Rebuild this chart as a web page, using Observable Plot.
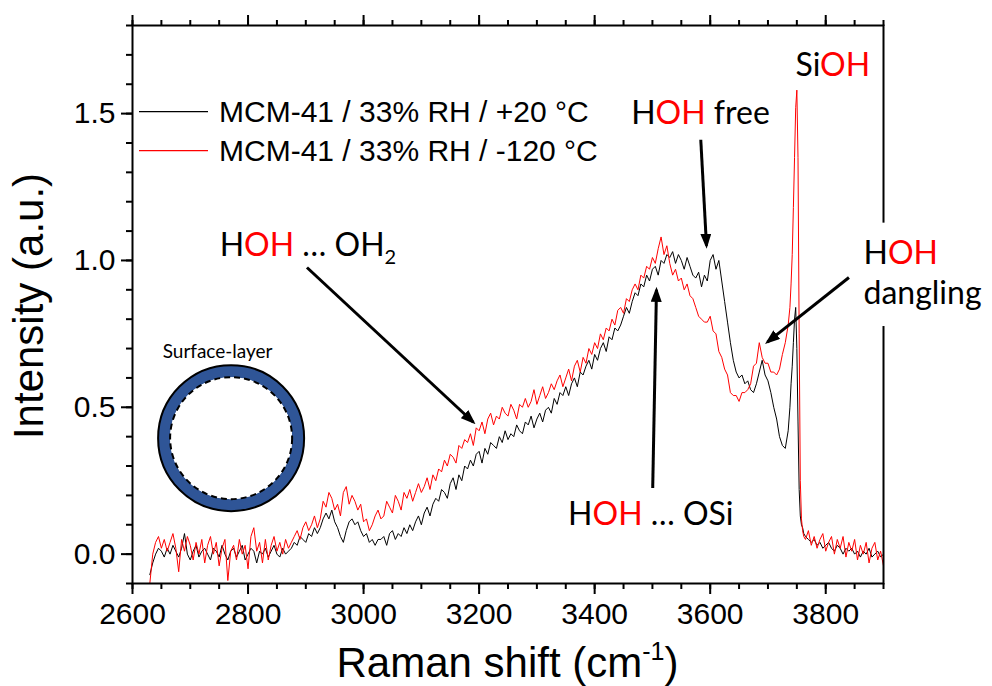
<!DOCTYPE html>
<html><head><meta charset="utf-8">
<script src="https://cdn.jsdelivr.net/npm/d3@7"></script>
<script src="https://cdn.jsdelivr.net/npm/@observablehq/plot@0.6"></script>
<style>body{margin:0;background:#fff;} svg{display:block}</style>
</head><body><div id="chart"></div>
<script>
// Raman shift grid (cm^-1): 5 cm^-1 steps, finer around the SiOH peak
const wavenumbers = [...d3.range(2630, 3736, 5), ...d3.range(3738, 3763, 2), ...d3.range(3765, 3901, 5)];

// MCM-41 / 33% RH / +20 °C (black)
const intensityWarm = [
 -0.07,-0.03,0.00,0.02,0.01,-0.01,0.02,0.00,0.03,0.01,
 -0.01,0.02,0.07,0.00,-0.02,0.01,0.03,-0.01,0.01,0.02,
 0.00,-0.02,0.02,0.01,-0.01,0.03,0.00,-0.02,0.01,0.02,
 -0.01,0.01,0.03,-0.02,0.00,0.02,0.01,-0.03,0.01,0.00,
 0.02,-0.01,0.01,0.03,0.00,-0.01,0.02,0.00,0.01,0.02,
 0.04,0.03,0.06,0.05,0.04,0.07,0.06,0.09,0.07,0.09,
 0.12,0.14,0.12,0.15,0.11,0.09,0.06,0.04,0.08,0.11,
 0.12,0.10,0.11,0.08,0.06,0.07,0.04,0.05,0.03,0.05,
 0.05,0.06,0.03,0.07,0.08,0.05,0.07,0.06,0.09,0.07,
 0.10,0.08,0.11,0.13,0.10,0.14,0.16,0.13,0.17,0.19,
 0.18,0.22,0.21,0.19,0.24,0.26,0.22,0.27,0.25,0.30,
 0.29,0.32,0.30,0.34,0.35,0.31,0.36,0.34,0.38,0.37,
 0.36,0.40,0.38,0.42,0.39,0.41,0.40,0.44,0.42,0.41,
 0.45,0.44,0.47,0.43,0.46,0.48,0.45,0.49,0.50,0.48,
 0.53,0.51,0.55,0.54,0.57,0.54,0.58,0.60,0.57,0.62,
 0.61,0.64,0.66,0.63,0.68,0.66,0.70,0.72,0.69,0.74,
 0.73,0.77,0.76,0.78,0.81,0.84,0.82,0.86,0.89,0.88,
 0.92,0.91,0.95,0.93,0.97,0.98,0.95,1.00,0.99,1.02,
 1.01,1.03,0.99,1.02,1.00,0.97,1.01,0.98,0.95,0.94,
 0.96,0.91,0.95,0.93,1.00,1.02,0.97,1.00,0.93,0.86,
 0.79,0.72,0.66,0.62,0.60,0.61,0.58,0.59,0.56,0.55,
 0.58,0.62,0.66,0.61,0.59,0.55,0.50,0.46,0.40,0.37,
 0.36,0.42,
 0.50,0.58,0.64,0.72,0.80,0.84,0.70,0.45,0.22,0.13,0.10,0.09,0.07,
 0.06,0.05,0.04,0.05,0.03,0.04,0.02,0.03,0.04,0.02,
 0.01,0.03,0.02,0.00,0.02,0.01,0.02,0.00,0.01,-0.01,
 0.01,0.00,0.02,-0.01,0.00,0.01,-0.01,0.00
];

// MCM-41 / 33% RH / -120 °C (red)
const intensityCold = [
 -0.10,0.00,0.04,0.06,0.02,0.05,0.01,0.04,0.07,0.02,
 -0.06,0.05,0.01,0.06,0.03,-0.02,0.04,0.00,0.05,-0.03,
 0.03,0.06,0.00,0.04,-0.04,0.02,0.05,-0.09,0.01,0.03,
 -0.02,0.05,0.00,0.03,-0.05,0.06,0.09,0.01,0.04,-0.03,
 0.05,-0.02,0.03,0.06,0.01,0.04,0.00,0.05,0.02,0.04,
 0.06,0.08,0.05,0.09,0.11,0.08,0.10,0.13,0.09,0.12,
 0.18,0.16,0.21,0.19,0.15,0.17,0.13,0.21,0.23,0.17,
 0.20,0.18,0.15,0.17,0.11,0.12,0.08,0.10,0.13,0.15,
 0.12,0.13,0.18,0.16,0.14,0.20,0.18,0.15,0.21,0.19,
 0.22,0.18,0.21,0.24,0.21,0.23,0.26,0.22,0.27,0.25,
 0.29,0.28,0.32,0.30,0.34,0.33,0.31,0.37,0.36,0.39,
 0.38,0.41,0.37,0.43,0.42,0.45,0.41,0.46,0.48,0.44,
 0.47,0.46,0.50,0.48,0.47,0.51,0.49,0.46,0.51,0.50,
 0.53,0.50,0.52,0.56,0.51,0.54,0.57,0.53,0.55,0.58,
 0.56,0.59,0.61,0.57,0.60,0.63,0.59,0.64,0.66,0.62,
 0.67,0.65,0.70,0.68,0.72,0.70,0.75,0.73,0.77,0.76,
 0.80,0.78,0.83,0.84,0.82,0.87,0.86,0.90,0.92,0.90,
 0.95,0.94,0.98,0.97,1.01,0.99,1.04,1.08,1.02,1.05,
 0.99,0.95,0.97,0.93,0.94,0.90,0.92,0.88,0.87,0.84,
 0.81,0.80,0.79,0.79,0.81,0.76,0.75,0.69,0.67,0.63,
 0.61,0.55,0.54,0.54,0.52,0.55,0.55,0.56,0.58,0.64,
 0.65,0.72,0.67,0.65,0.65,0.62,0.62,0.61,0.63,0.68,
 0.72,0.78,
 0.84,0.92,1.02,1.18,1.35,1.52,1.58,1.35,0.75,0.25,0.12,0.08,0.06,
 0.05,0.08,0.03,0.06,0.02,0.05,0.07,0.01,0.04,0.06,
 0.00,0.05,0.02,0.06,-0.01,0.04,0.01,0.05,-0.02,0.03,
 0.00,0.04,-0.03,0.02,0.04,-0.02,0.01,-0.04
];

const seriesNames = ["MCM-41 / 33% RH / +20 °C", "MCM-41 / 33% RH / -120 °C"];
const seriesColors = ["#000000", "#ff0000"];
const xTicks = [2600, 2800, 3000, 3200, 3400, 3600, 3800];
const yTicks = [0.0, 0.5, 1.0, 1.5];
const xMinor = d3.range(2600, 3901, 50);
const yMinor = d3.range(-1, 19).map(i => i / 10);

const warm = wavenumbers.map((w, i) => ({w, v: intensityWarm[i]}));
const cold = wavenumbers.map((w, i) => ({w, v: intensityCold[i]}));

// annotation anchors (data coordinates)
const arrows = [
  {x1: 2902, y1: 0.976, x2: 3190, y2: 0.449},
  {x1: 3583.7, y1: 1.411, x2: 3593.6, y2: 1.050},
  {x1: 3500.5, y1: 0.225, x2: 3507, y2: 0.900},
  {x1: 3840.2, y1: 0.942, x2: 3699, y2: 0.722}
];
const inset = [{x: 2770.7, y: 0.395}];
const gapBox = [{x1: 3872, x2: 4120, y1: 0.775, y2: 1.127}];

const ANN_FONT = "Lato, 'Open Sans', sans-serif";
const K = "#000000", R = "#ff0000";

const plot = Plot.plot({
  width: 992, height: 686,
  marginLeft: 132, marginRight: 109, marginTop: 25, marginBottom: 103,
  style: {fontFamily: "'Liberation Sans', Arial, sans-serif", fontSize: "30px", color: "black", background: "white"},
  x: {domain: [2600, 3900]},
  y: {domain: [-0.1, 1.8]},
  marks: [
    Plot.line(warm, {x: "w", y: "v", stroke: seriesColors[0], strokeWidth: 1, clip: true}),
    Plot.line(cold, {x: "w", y: "v", stroke: seriesColors[1], strokeWidth: 1, clip: true}),
    Plot.frame({stroke: "black", strokeWidth: 2}),
    Plot.axisX({anchor: "bottom", ticks: xTicks, tickSize: 11, tickPadding: 8, tickFormat: d => String(d), strokeWidth: 2, label: null}),
    Plot.axisX({anchor: "bottom", ticks: xMinor, tickSize: 6, tickFormat: () => "", strokeWidth: 2, label: null}),
    Plot.axisX({anchor: "top", ticks: xTicks, tickSize: 11, tickFormat: () => "", strokeWidth: 2, label: null}),
    Plot.axisX({anchor: "top", ticks: xMinor, tickSize: 6, tickFormat: () => "", strokeWidth: 2, label: null}),
    Plot.axisY({anchor: "left", ticks: yTicks, tickSize: 11, tickPadding: 6, tickFormat: d3.format(".1f"), strokeWidth: 2, label: null}),
    Plot.axisY({anchor: "left", ticks: yMinor, tickSize: 6, tickFormat: () => "", strokeWidth: 2, label: null}),
    Plot.rect(gapBox, {x1: "x1", x2: "x2", y1: "y1", y2: "y2", fill: "white"}),
    Plot.dot(inset, {x: "x", y: "y", r: 67, fill: "none", stroke: "#2f5597", strokeWidth: 12}),
    Plot.dot(inset, {x: "x", y: "y", r: 73, fill: "none", stroke: "black", strokeWidth: 2}),
    Plot.dot(inset, {x: "x", y: "y", r: 61, fill: "white", stroke: "black", strokeWidth: 2, strokeDasharray: "6,4"}),
    Plot.link(arrows, {x1: "x1", y1: "y1", x2: "x2", y2: "y2", stroke: "black", strokeWidth: 3})
  ]
});

document.getElementById("chart").appendChild(plot);
const svg = d3.select(plot);
const xs = plot.scale("x"), ys = plot.scale("y");
const fx = xs.apply ? v => xs.apply(v) : d3.scaleLinear(xs.domain, xs.range);
const fy = ys.apply ? v => ys.apply(v) : d3.scaleLinear(ys.domain, ys.range);

// arrowheads
const defs = svg.insert("defs", ":first-child");
defs.append("marker").attr("id", "ahead").attr("viewBox", "0 0 15 11")
  .attr("refX", 12).attr("refY", 5.5).attr("markerWidth", 15).attr("markerHeight", 11)
  .attr("markerUnits", "userSpaceOnUse").attr("orient", "auto")
  .append("path").attr("d", "M0,0 L15,5.5 L0,11 Z").attr("fill", "black");
svg.selectAll('g[aria-label="link"] path').attr("marker-end", "url(#ahead)");

// rich-text annotations
const annotations = [
  {x: 2751.7, y: 1.013, parts: [["H", K], ["OH", R], [" … OH", K], ["2", K, "sub"]]},
  {x: 3464.1, y: 1.4616, parts: [["H", K], ["OH", R], [" free", K]]},
  {x: 3748.4, y: 1.6247, parts: [["Si", K], ["OH", R]]},
  {x: 3866.2, y: 0.986, parts: [["H", K], ["OH", R]]},
  {x: 3866.2, y: 0.850, parts: [["dangling", K]]},
  {x: 3354.9, y: 0.0961, parts: [["H", K], ["OH", R], [" … OSi", K]]}
];
const ann = svg.append("g").attr("font-family", ANN_FONT).attr("font-size", 32)
  .attr("text-anchor", "start").style("white-space", "pre");
for (const a of annotations) {
  const t = ann.append("text").attr("x", fx(a.x)).attr("y", fy(a.y)).attr("text-anchor", "start");
  for (const [s, c, kind] of a.parts) {
    const sp = t.append("tspan").attr("fill", c).text(s);
    if (kind === "sub") sp.attr("font-size", 20).attr("dy", 8);
  }
}
ann.append("text").attr("x", fx(2748.2)).attr("y", fy(0.6668)).attr("text-anchor", "middle")
  .attr("font-size", 19).text("Surface-layer");

// legend
const lg = svg.append("g").attr("font-family", "'Liberation Sans', Arial, sans-serif").attr("font-size", 30)
  .attr("text-anchor", "start");
seriesNames.forEach((name, i) => {
  const yy = 111.7 + i * 39;
  lg.append("line").attr("x1", 139).attr("x2", 208).attr("y1", yy).attr("y2", yy)
    .attr("stroke", seriesColors[i]).attr("stroke-width", 1.2);
  lg.append("text").attr("x", 219).attr("y", yy + 10.5).attr("fill", "black").attr("text-anchor", "start").text(name);
});

// axis titles
const titles = svg.append("g").attr("font-family", "'Liberation Sans', Arial, sans-serif").attr("font-size", 42).attr("fill", "black");
const xt = titles.append("text").attr("x", (fx(2600) + fx(3900)) / 2).attr("y", 677).attr("text-anchor", "middle");
xt.append("tspan").text("Raman shift (cm");
xt.append("tspan").attr("font-size", 25).attr("dy", -17).text("-1");
xt.append("tspan").attr("dy", 17).text(")");
titles.append("text").attr("transform", `translate(43,${(fy(-0.1) + fy(1.8)) / 2 + 2}) rotate(-90)`)
  .attr("text-anchor", "middle").text("Intensity (a.u.)");
</script>
</body></html>
